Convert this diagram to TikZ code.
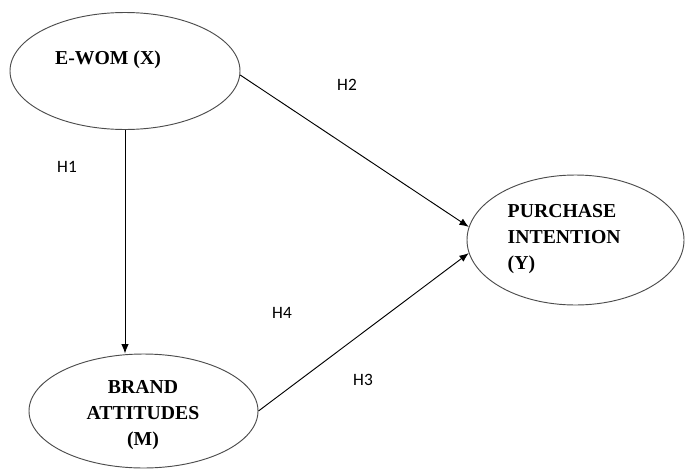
\documentclass[tikz,border=0pt]{standalone}
\usepackage{fontspec}
\setmainfont{Liberation Serif}
\newfontfamily\hfont{Carlito}
\usetikzlibrary{shapes.geometric,arrows.meta}

\tikzset{
    construct/.style={ellipse, draw=black!70, line width=0.7pt, inner sep=0pt},
    ctext/.style={font=\fontsize{14.8}{19.5}\selectfont\bfseries, align=center},
    hyp/.style={font=\hfont\fontsize{13}{15}\selectfont},
    path/.style={-{Latex[length=7pt,width=5.5pt]}, line width=0.7pt}
}

\begin{document}
\begin{tikzpicture}[x=0.75pt,y=-0.75pt]

\useasboundingbox (0,0) rectangle (685,468);

% constructs
\path (125,71) node[construct, minimum width=172.5pt, minimum height=87.75pt] (ewom) {};
\path (575.5,240) node[construct, minimum width=162.75pt, minimum height=97.5pt] (purch) {};
\path (143.5,411) node[construct, minimum width=171.75pt, minimum height=85.5pt] (brand) {};

\path (108,60) node[ctext] (ewomtxt) {E-WOM (X)};
\path (503,239) node[ctext, anchor=west, align=left] (purchtxt) {PURCHASE\\INTENTION\\(Y)};
\path (143,415) node[ctext] (brandtxt) {BRAND\\ATTITUDES\\(M)};

% paths
\draw [path] (ewom.south) -- (ewom.south |- brand.north);
\draw [path] (ewom.-2) -- (purch.173);
\draw [path] (brand.east) -- (purch.187);

% hypotheses
\path (67,167) node[hyp] (h1) {H1};
\path (347,85) node[hyp] (h2) {H2};
\path (363,380) node[hyp] (h3) {H3};
\path (282,313) node[hyp] (h4) {H4};

\end{tikzpicture}
\end{document}
